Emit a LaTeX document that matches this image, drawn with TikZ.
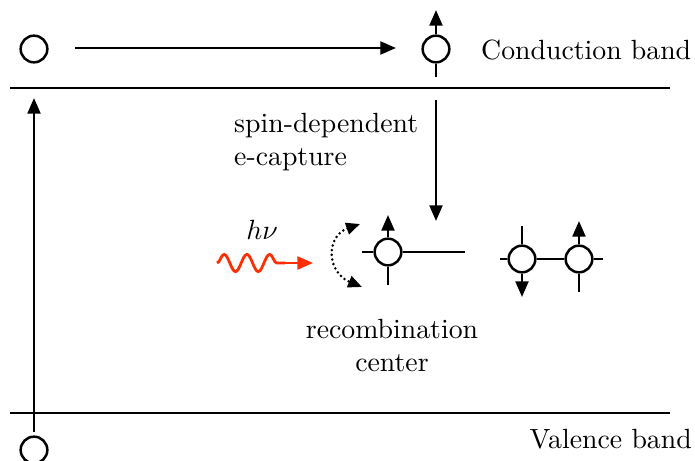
\documentclass[tikz,border=0pt]{standalone}
\usetikzlibrary{arrows.meta,decorations.pathmorphing}
\definecolor{photon}{RGB}{255,45,0}
\begin{document}
\begin{tikzpicture}[x=0.36pt,y=-0.36pt,
  line width=0.9pt,
  every node/.style={inner sep=0pt},
  site/.style={circle,draw,line width=0.9pt,minimum size=9.6pt,fill=white},
  tip/.style={-{Triangle[length=5.6pt,width=4.6pt]}},
  twotip/.style={{Triangle[length=5pt,width=4.2pt]}-{Triangle[length=5pt,width=4.2pt]}}]
\useasboundingbox (0,0) rectangle (695,461);

% bands
\coordinate (cbL) at (10,88);  \coordinate (cbR) at (670,88);
\coordinate (vbL) at (10,413); \coordinate (vbR) at (670,413);
\draw (cbL) -- (cbR);
\draw (vbL) -- (vbR);
\node[anchor=west] (cbtext) at (480,50.5) {Conduction band};
\node[anchor=east] (vbtext) at (693,439.5) {Valence band};

% sites
\node[site] (h1) at (34,49) {};
\node[site] (e1) at (436,49) {};
\node[site] (h2) at (34,450) {};
\node[site] (rc) at (388,252) {};
\node[site] (p1) at (522,259) {};
\node[site] (p2) at (579,259) {};

% top transfer arrow
\coordinate (ta) at (75,48); \coordinate (tb) at (396,48);
\draw[tip] (ta) -- (tb);

% conduction electron spin
\coordinate (e1up) at (436,10); \coordinate (e1dn) at (436,77);
\draw[tip] (e1.north) -- (e1up);
\draw (e1.south) -- (e1dn);

% valence to conduction arrow
\coordinate (h2up) at (34,98);
\draw[tip,shorten <=1.4pt] (h2.north) -- (h2up);

% capture arrow
\coordinate (capA) at (436,100); \coordinate (capB) at (436,221);
\draw[tip] (capA) -- (capB);
\node[anchor=north west,align=left] (captxt) at (233,112) {spin-dependent\\e-capture};

% recombination center
\coordinate (rcL) at (362,252); \coordinate (rcR) at (465,252);
\coordinate (rcU) at (388,215); \coordinate (rcD) at (388,285);
\draw (rcL) -- (rc.west);
\draw (rc.east) -- (rcR);
\draw[tip] (rc.north) -- (rcU);
\draw (rc.south) -- (rcD);
\node[anchor=north,align=center] (rctxt) at (392,318) {recombination\\center};

% dotted spin flip
\coordinate (flA) at (360,224); \coordinate (flB) at (362,287);
\draw[twotip,line width=1pt,line cap=round,dash pattern=on 0pt off 1.7pt] (flA) .. controls (326,236) and (326,272) .. (flB);

% photon
\coordinate (phA) at (217,263); \coordinate (phM) at (285,263); \coordinate (phB) at (313,263);
\draw[photon,line width=1pt,decorate,decoration={snake,amplitude=3.1pt,segment length=8.2pt}] (phA) -- (phM);
\draw[photon,line width=1pt,tip] (phM) -- (phB);
\node[anchor=base] (hnu) at (262,240) {$h\nu$};

% pair
\coordinate (p1L) at (500,259); \coordinate (p1U) at (522,226); \coordinate (p1D) at (522,297);
\coordinate (p2R) at (603,259); \coordinate (p2U) at (579,221); \coordinate (p2D) at (579,292);
\draw (p1L) -- (p1.west);
\draw (p1.east) -- (p2.west);
\draw (p2.east) -- (p2R);
\draw (p1.north) -- (p1U);
\draw[tip] (p1.south) -- (p1D);
\draw[tip] (p2.north) -- (p2U);
\draw (p2.south) -- (p2D);
\end{tikzpicture}
\end{document}
